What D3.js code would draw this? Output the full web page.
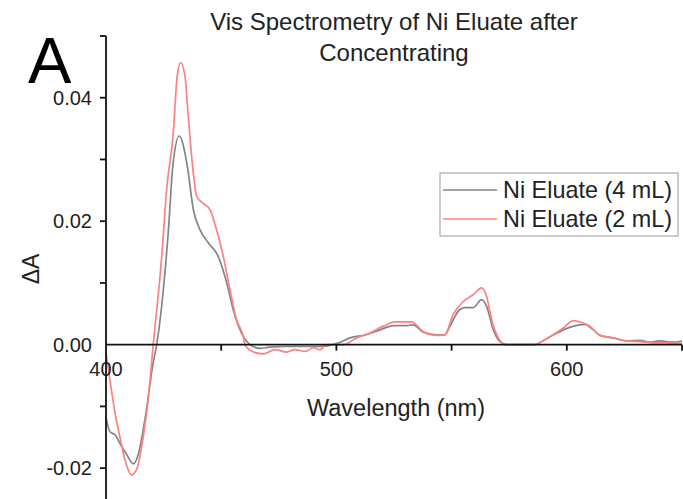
<!DOCTYPE html>
<html><head><meta charset="utf-8">
<script src="https://cdn.jsdelivr.net/npm/d3@7/dist/d3.min.js"></script>
<style>body{margin:0;background:#fff}svg{display:block}text{font-family:"Liberation Sans",Arial,sans-serif;fill:#222}</style>
</head><body>
<script>
const seriesNames = ["Ni Eluate (4 mL)", "Ni Eluate (2 mL)"];
const wl4 = [400,401.7,403.9,406.8,409,411.9,414,416.9,420.5,422,427,429,431.8,435.3,437.9,440.8,444.4,448.7,452.4,455.2,459.6,462.5,466.8,471,478.4,485.5,493,498.6,501,505.9,513,519,524.7,530.5,533.4,537.7,543.5,547,549.3,551.5,553.6,555.8,559.4,563,565.2,568.1,571,574,585.5,592.7,598.5,602.8,607.9,611.5,614.4,620.2,626,631.8,636,640.4,646,650];
const abs4 = [-0.0118,-0.0141,-0.0146,-0.0165,-0.0178,-0.0193,-0.0178,-0.0121,-0.0029,0,0.0181,0.0289,0.0338,0.0289,0.0219,0.0186,0.0165,0.0143,0.010,0.0057,0.0013,0,-0.0006,-0.0004,-0.0003,-0.0003,-0.0003,0,0.0003,0.0011,0.0016,0.0024,0.0031,0.0031,0.0032,0.0020,0.0016,0.0016,0.003,0.0046,0.0057,0.006,0.006,0.0073,0.0062,0.0024,0.0005,0,0,0.0013,0.0024,0.003,0.0033,0.0024,0.0015,0.0011,0.0006,0.0007,0.0004,0.0006,0.0004,0.0006];
const wl2 = [400,401.7,403.9,406,408.2,411.1,413.3,415.5,418.4,420.5,424.2,426.3,429.2,430.9,432.4,434.3,435.7,437.9,439.4,442.2,445.1,448,450.9,453.8,456.7,459.6,460.3,464,468.3,473.4,478.4,482,486.4,490,492.9,495.8,503,508.8,514.6,520.4,525.4,532.6,537.7,543.5,547,550.7,555.1,559.4,563,565.2,567.4,570.3,573.2,585.5,592.7,598.5,602.8,606.4,610,614.4,620.2,626,631.8,638,643,650];
const abs2 = [-0.0013,-0.0057,-0.011,-0.0149,-0.0186,-0.0211,-0.0202,-0.0165,-0.0084,0,0.0143,0.0251,0.0343,0.0435,0.0457,0.0435,0.037,0.0278,0.024,0.0229,0.0219,0.0186,0.0143,0.0089,0.004,0.0013,0,-0.0012,-0.0015,-0.0008,-0.0012,-0.0008,-0.0011,-0.0005,-0.0008,0,0,0.0011,0.0019,0.003,0.0037,0.0037,0.0021,0.0015,0.0016,0.0049,0.007,0.0081,0.0092,0.0078,0.004,0.0011,0,0,0.0013,0.0027,0.0039,0.0036,0.003,0.0015,0.0011,0.0006,0.0005,0.0003,0.0003,0.0002];
const xTicks = [400, 500, 600];
const xMinor = [450, 500, 550, 600, 650];
const yTicks = [-0.02, 0.00, 0.02, 0.04];
const yMinor = [-0.02, -0.01, 0.01, 0.02, 0.03, 0.04, 0.05];
const colors = ["#858585", "#ff8080"];

const W = 683, H = 499;
const svg = d3.select("body").append("svg").attr("width", W).attr("height", H);
const x = d3.scaleLinear().domain([400, 650]).range([106, 682]);
const y = d3.scaleLinear().domain([-0.025, 0.05]).range([499, 36]);

// curves
const series = [
  {wl: wl4, a: abs4, c: colors[0]},
  {wl: wl2, a: abs2, c: colors[1]}
];
const line = d3.line().x(d => x(d[0])).y(d => y(d[1])).curve(d3.curveMonotoneX);
series.forEach(s => {
  svg.append("path").datum(s.wl.map((w, i) => [w, s.a[i]]))
    .attr("d", line).attr("fill", "none").attr("stroke", s.c).attr("stroke-width", 1.7);
});

// x axis at y=0
const xAxis = svg.append("g").attr("transform", `translate(0,${y(0)})`);
xAxis.append("line").attr("x1", x(400)).attr("x2", x(650)).attr("stroke", "#111").attr("stroke-width", 1.8);
xAxis.selectAll("line.tk").data(xMinor).join("line").attr("class", "tk")
  .attr("x1", d => x(d)).attr("x2", d => x(d)).attr("y1", 0).attr("y2", 6)
  .attr("stroke", "#111").attr("stroke-width", 1.8);
xAxis.selectAll("text").data(xTicks).join("text")
  .attr("x", d => x(d)).attr("y", 31).attr("text-anchor", "middle")
  .attr("font-size", 20).text(d => d3.format("d")(d));

// y axis
const yAxis = svg.append("g").attr("transform", `translate(${x(400)},0)`);
yAxis.append("line").attr("y1", y(0.05)).attr("y2", y(-0.025)).attr("stroke", "#111").attr("stroke-width", 1.8);
yAxis.selectAll("line.tk").data(yMinor).join("line").attr("class", "tk")
  .attr("x1", -6).attr("x2", 0).attr("y1", d => y(d)).attr("y2", d => y(d))
  .attr("stroke", "#111").attr("stroke-width", 1.8);
yAxis.selectAll("text").data(yTicks).join("text")
  .attr("x", -14).attr("y", d => y(d) + 7).attr("text-anchor", "end")
  .attr("font-size", 20).text(d => d3.format(".2f")(d).replace("\u2212", "-"));

// axis labels
svg.append("text").attr("x", 396).attr("y", 416).attr("text-anchor", "middle")
  .attr("font-size", 23.5).text("Wavelength (nm)");
svg.append("text").attr("transform", "translate(39,269) rotate(-90)").attr("text-anchor", "middle")
  .attr("font-size", 23).text("ΔA");

// title
svg.append("text").attr("x", 394).attr("y", 30).attr("text-anchor", "middle")
  .attr("font-size", 24).text("Vis Spectrometry of Ni Eluate after");
svg.append("text").attr("x", 394).attr("y", 61).attr("text-anchor", "middle")
  .attr("font-size", 24).text("Concentrating");

// panel letter
svg.append("text").attr("x", 28).attr("y", 83).attr("font-size", 65).style("fill", "#000").text("A");

// legend
const lg = svg.append("g");
lg.append("rect").attr("x", 440).attr("y", 173).attr("width", 238).attr("height", 63)
  .attr("fill", "#fff").attr("stroke", "#aaa").attr("stroke-width", 1.2);
seriesNames.forEach((n, i) => {
  const yy = 190 + i * 29;
  lg.append("line").attr("x1", 443).attr("x2", 497).attr("y1", yy).attr("y2", yy)
    .attr("stroke", colors[i]).attr("stroke-width", 1.7);
  lg.append("text").attr("x", 503).attr("y", yy + 8).attr("font-size", 23.4).text(n);
});
</script>
</body></html>
